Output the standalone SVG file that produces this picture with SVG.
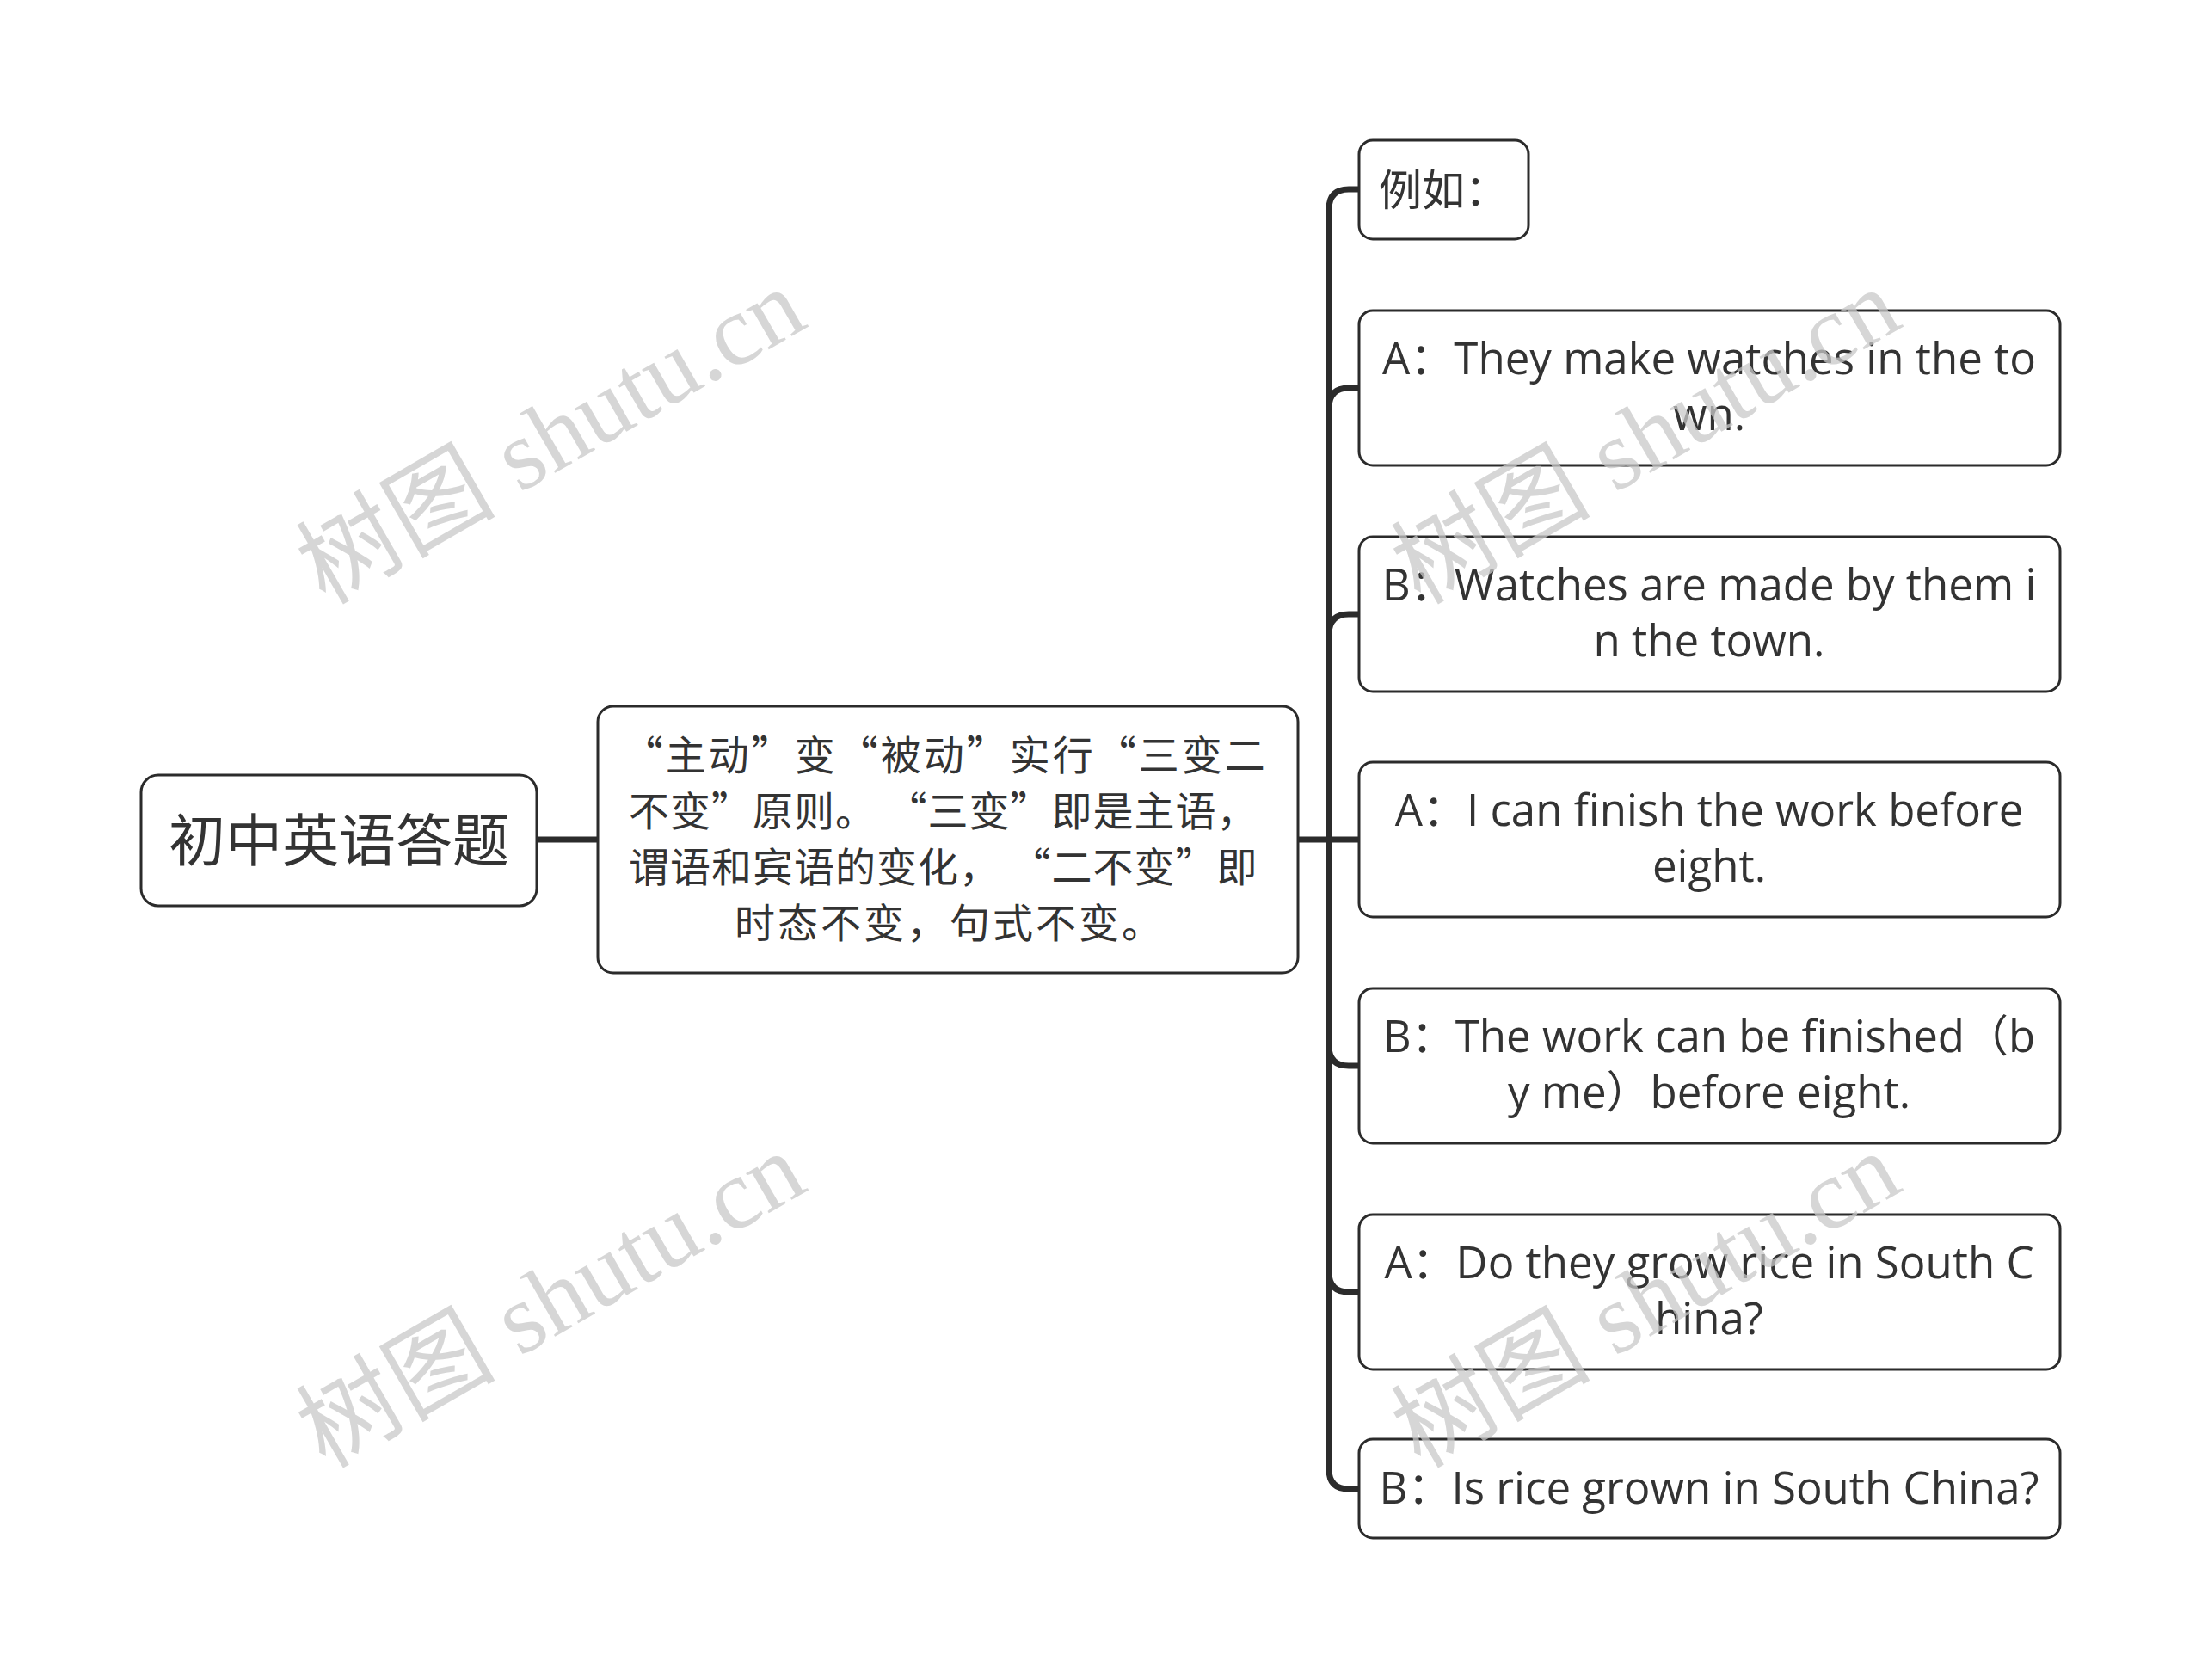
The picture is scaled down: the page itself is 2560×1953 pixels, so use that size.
<svg xmlns="http://www.w3.org/2000/svg" width="2560" height="1953" viewBox="0 0 2560 1953">
<style>
.box{fill:#fff;stroke:#2b2b2b;stroke-width:3}
.conn{fill:none;stroke:#2b2b2b;stroke-width:7;stroke-linecap:round;stroke-linejoin:round}
.zh{font-family:"Noto Sans CJK SC",sans-serif;fill:#333;text-anchor:middle}
.en{font-family:"Open Sans","Noto Sans CJK SC",sans-serif;font-size:51px;fill:#333;text-anchor:middle}
.wm{font-family:"Liberation Serif","Noto Sans CJK SC",serif;font-size:116px;fill:#c8c8c8;fill-opacity:0.75}
</style>
<rect width="2560" height="1953" fill="#fff"/>
<g id="connectors">
<path class="conn" d="M624 976 H695"/>
<path class="conn" d="M1509 976 H1580"/>
<path class="conn" d="M1545 976 V243 Q1545 220 1568 220 H1580"/>
<path class="conn" d="M1545 474 Q1545 451 1568 451 H1580"/>
<path class="conn" d="M1545 737 Q1545 714 1568 714 H1580"/>
<path class="conn" d="M1545 1216 Q1545 1239 1568 1239 H1580"/>
<path class="conn" d="M1545 1479 Q1545 1502 1568 1502 H1580"/>
<path class="conn" d="M1545 976 V1708 Q1545 1731 1568 1731 H1580"/>
</g>
<g id="root">
<rect class="box" x="164" y="901" width="460" height="152" rx="20"/>
<text class="zh" x="394" y="1001" font-size="66">初中英语答题</text>
</g>
<g id="main">
<rect class="box" x="695" y="821" width="814" height="310" rx="18"/>
<text class="zh" font-size="47">
<tspan x="1104" y="895" letter-spacing="3">“主动”变“被动”实行“三变二</tspan>
<tspan x="1102" y="960" letter-spacing="1">不变”原则。 “三变”即是主语，</tspan>
<tspan x="1102" y="1025" letter-spacing="1">谓语和宾语的变化， “二不变”即</tspan>
<tspan x="1104" y="1090" letter-spacing="3">时态不变，句式不变。</tspan>
</text>
</g>
<g id="n0">
<rect class="box" x="1580" y="163" width="197" height="115" rx="16"/>
<text class="zh" x="1678" y="239" font-size="50">例如：</text>
</g>
<g id="n1">
<rect class="box" x="1580" y="361" width="815" height="180" rx="16"/>
<text class="en"><tspan x="1987" y="435">A：They make watches in the to</tspan><tspan x="1987" y="500">wn.</tspan></text>
</g>
<g id="n2">
<rect class="box" x="1580" y="624" width="815" height="180" rx="16"/>
<text class="en"><tspan x="1987" y="698">B：Watches are made by them i</tspan><tspan x="1987" y="763">n the town.</tspan></text>
</g>
<g id="n3">
<rect class="box" x="1580" y="886" width="815" height="180" rx="16"/>
<text class="en"><tspan x="1987" y="960">A：I can finish the work before</tspan><tspan x="1987" y="1025">eight.</tspan></text>
</g>
<g id="n4">
<rect class="box" x="1580" y="1149" width="815" height="180" rx="16"/>
<text class="en"><tspan x="1987" y="1223">B：The work can be finished（b</tspan><tspan x="1987" y="1288">y me）before eight.</tspan></text>
</g>
<g id="n5">
<rect class="box" x="1580" y="1412" width="815" height="180" rx="16"/>
<text class="en"><tspan x="1987" y="1486">A：Do they grow rice in South C</tspan><tspan x="1987" y="1551">hina?</tspan></text>
</g>
<g id="n6">
<rect class="box" x="1580" y="1673" width="815" height="115" rx="16"/>
<text class="en" x="1987" y="1748">B：Is rice grown in South China?</text>
</g>
<g id="watermarks">
<text class="wm" transform="translate(378,704) rotate(-30)">树图 shutu.cn</text>
<text class="wm" transform="translate(1651,704) rotate(-30)">树图 shutu.cn</text>
<text class="wm" transform="translate(378,1708) rotate(-30)">树图 shutu.cn</text>
<text class="wm" transform="translate(1651,1708) rotate(-30)">树图 shutu.cn</text>
</g>
</svg>
